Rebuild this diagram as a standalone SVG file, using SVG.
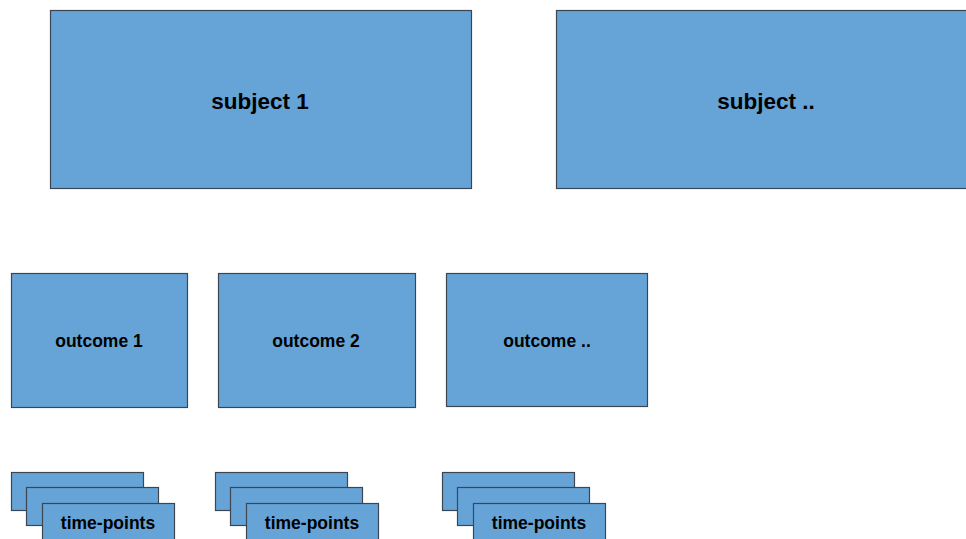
<svg xmlns="http://www.w3.org/2000/svg" width="966" height="539" viewBox="0 0 966 539">
<style>
.box{fill:#66a4d8;stroke:#3c4652;stroke-width:1.2}
.lbl{font-family:"Liberation Sans",Arial,sans-serif;font-weight:bold;fill:#000;text-anchor:middle}
.big{font-size:22.5px}
.mid{font-size:17.5px}
.sm{font-size:17.5px}
</style>
<rect width="966" height="539" fill="#fff"/>
<g id="subject-1"><rect class="box" x="50.5" y="10.5" width="421" height="178"/><text class="lbl big" x="260" y="109">subject 1</text></g>
<g id="subject-n"><rect class="box" x="556.5" y="10.5" width="421" height="178"/><text class="lbl big" x="766" y="109">subject ..</text></g>
<g id="outcome-1"><rect class="box" x="11.5" y="273.5" width="176" height="134"/><text class="lbl mid" x="99" y="347">outcome 1</text></g>
<g id="outcome-2"><rect class="box" x="218.5" y="273.5" width="197" height="134"/><text class="lbl mid" x="316" y="347">outcome 2</text></g>
<g id="outcome-n"><rect class="box" x="446.5" y="273.5" width="201" height="133"/><text class="lbl mid" x="547" y="347">outcome ..</text></g>
<g id="timepoints-1">
<rect class="box" x="11.5" y="472.5" width="132" height="38"/>
<rect class="box" x="26.5" y="487.5" width="132" height="38"/>
<rect class="box" x="42.5" y="503.5" width="132" height="40"/>
<text class="lbl sm" x="108" y="529">time-points</text></g>
<g id="timepoints-2">
<rect class="box" x="215.5" y="472.5" width="132" height="38"/>
<rect class="box" x="230.5" y="487.5" width="132" height="38"/>
<rect class="box" x="246.5" y="503.5" width="132" height="40"/>
<text class="lbl sm" x="312" y="529">time-points</text></g>
<g id="timepoints-n">
<rect class="box" x="442.5" y="472.5" width="132" height="38"/>
<rect class="box" x="457.5" y="487.5" width="132" height="38"/>
<rect class="box" x="473.5" y="503.5" width="132" height="40"/>
<text class="lbl sm" x="539" y="529">time-points</text></g>
<g id="connectors"></g>
</svg>
